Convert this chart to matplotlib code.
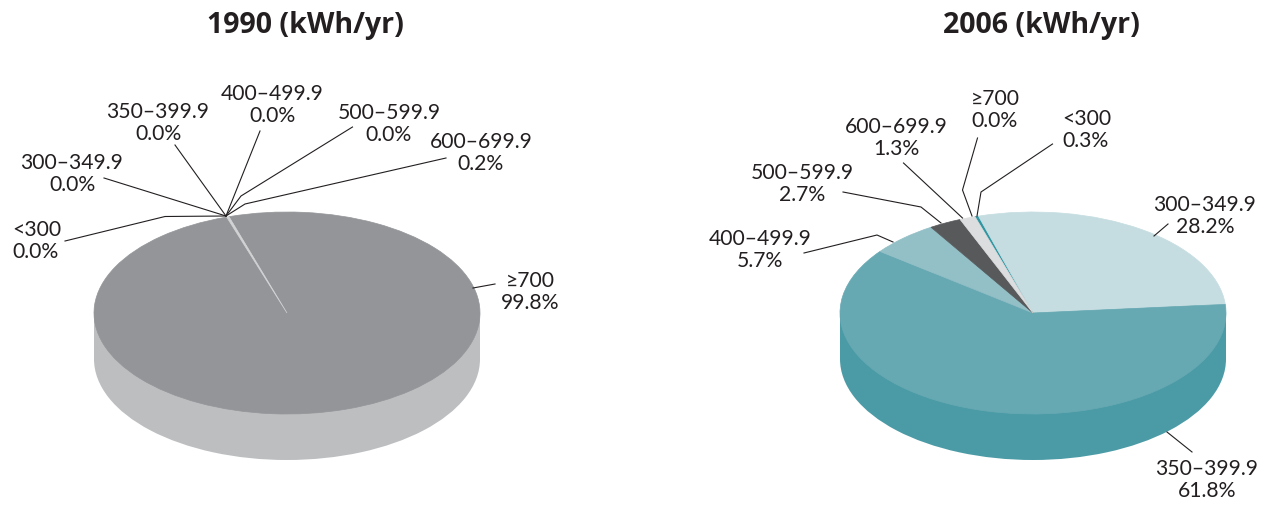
"""Dos tartas pseudo-3D: reparto por clase de consumo (kWh/yr), 1990 y 2006."""

import matplotlib

matplotlib.use("Agg")

import matplotlib.pyplot as plt

plt.rcParams["font.family"] = ["Lato", "DejaVu Sans"]

ANCHO = 1272
ALTO = 522
TEXTO = "#231f20"

# Datos: mismo orden que las porciones, en sentido horario
clases = ["≥700", "<300", "300–349.9", "350–399.9", "400–499.9", "500–599.9", "600–699.9"]
valores_1990 = [99.8, 0.0, 0.0, 0.0, 0.0, 0.0, 0.2]
valores_2006 = [0.0, 0.3, 28.2, 61.8, 5.7, 2.7, 1.3]

colores_1990 = ["#939598", "#939598", "#939598", "#939598", "#939598", "#939598", "#d1d3d4"]
colores_2006 = ["#2f96a2", "#2f96a2", "#c5dde1", "#67a9b3", "#93bfc6", "#58595b", "#dcddde"]

# Posicion de cada rotulo (x, y, alineacion) en pixeles de la imagen
rotulos_1990 = {
    "≥700": (530, 292, "center"),
    "<300": (12, 241, "left"),
    "300–349.9": (72, 174, "center"),
    "350–399.9": (158, 123, "center"),
    "400–499.9": (272, 105, "center"),
    "500–599.9": (389, 124, "center"),
    "600–699.9": (481, 153, "center"),
}
rotulos_2006 = {
    "≥700": (995, 110, "center"),
    "<300": (1062, 130, "left"),
    "300–349.9": (1205, 216, "center"),
    "350–399.9": (1207, 480, "center"),
    "400–499.9": (760, 250, "center"),
    "500–599.9": (802, 184, "center"),
    "600–699.9": (896, 138, "center"),
}

# Lineas guia en pixeles
guias_1990 = [
    [(495, 284), (473, 288)],
    [(65, 241), (165, 216.5), (226, 216)],
    [(104, 178), (226, 216)],
    [(175, 145), (226, 216)],
    [(260, 131), (226, 216)],
    [(352.5, 127), (241, 196), (226, 216)],
    [(446, 158), (245, 204), (226, 216)],
]
guias_2006 = [
    [(977.5, 138), (962.5, 190), (972, 216)],
    [(1052.5, 144), (981, 192), (977, 216)],
    [(1168, 224), (1154, 236)],
    [(1192, 452), (1167, 432)],
    [(804, 253), (877, 235), (893, 242)],
    [(843, 192), (921, 207), (941, 223)],
    [(903.5, 163), (962.5, 218)],
]


def dibujar_tarta(figura, valores, colores, color_lado, centro_x, centro_y):
    """Tarta achatada con su canto inferior; el eje deforma el circulo en elipse."""
    radio_x = 193
    radio_y = 101
    canto = 46
    eje = figura.add_axes([
        (centro_x - radio_x) / ANCHO,
        1 - (centro_y + radio_y + canto) / ALTO,
        2 * radio_x / ANCHO,
        (2 * radio_y + canto) / ALTO,
    ])

    # Canto: una tarta de un solo color abajo y una banda hasta la de arriba
    desplazamiento = canto / radio_y
    eje.pie(
        [1], colors=[color_lado], radius=1, center=(0, -desplazamiento),
        wedgeprops={"linewidth": 0, "clip_on": False},
    )
    eje.fill_between([-1, 1], [-desplazamiento, -desplazamiento], [0, 0], color=color_lado, linewidth=0)

    # Cara superior
    porciones, _ = eje.pie(
        valores, colors=colores, radius=1, startangle=107.5, counterclock=False,
        wedgeprops={"linewidth": 0.5, "clip_on": False},
    )
    for porcion in porciones:
        porcion.set_edgecolor(porcion.get_facecolor())

    eje.set_aspect("auto")
    eje.set_xlim(-1, 1)
    eje.set_ylim(-1 - desplazamiento, 1)
    eje.axis("off")


def dibujar_anotaciones(capa, valores, rotulos, guias):
    for clase, valor in zip(clases, valores):
        x, y, alineacion = rotulos[clase]
        capa.text(
            x, y, f"{clase}\n{valor:.1f}%", ha=alineacion, va="center",
            fontsize=15.2, color=TEXTO, linespacing=1.17,
        )
    for guia in guias:
        capa.plot([p[0] for p in guia], [p[1] for p in guia], color=TEXTO, linewidth=0.8)


figura = plt.figure(figsize=(ANCHO / 100, ALTO / 100), dpi=100)

dibujar_tarta(figura, valores_1990, colores_1990, "#bcbec0", 287, 313)
dibujar_tarta(figura, valores_2006, colores_2006, "#4b9ba6", 1033, 313)

# Capa transparente en pixeles para textos y guias
capa = figura.add_axes([0, 0, 1, 1])
capa.set_xlim(0, ANCHO)
capa.set_ylim(ALTO, 0)
capa.axis("off")

dibujar_anotaciones(capa, valores_1990, rotulos_1990, guias_1990)
dibujar_anotaciones(capa, valores_2006, rotulos_2006, guias_2006)

capa.text(305, 26, "1990 (kWh/yr)", ha="center", va="center", fontsize=20.5, fontweight="bold",
          family=["Open Sans", "DejaVu Sans"], color=TEXTO)
capa.text(1041, 26, "2006 (kWh/yr)", ha="center", va="center", fontsize=20.5, fontweight="bold",
          family=["Open Sans", "DejaVu Sans"], color=TEXTO)

figura.savefig("out.png", dpi=100)
plt.close(figura)
